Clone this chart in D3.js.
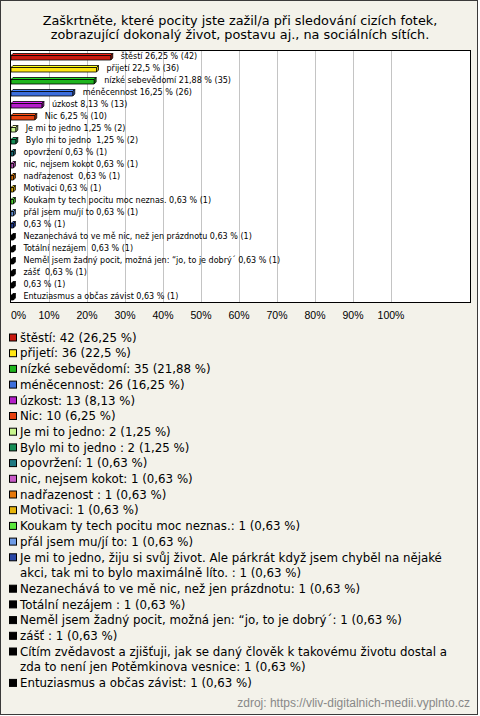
<!DOCTYPE html>
<html><head><meta charset="utf-8">
<script src="https://cdn.jsdelivr.net/npm/d3@7"></script>
<style>
html,body{margin:0;padding:0;background:#fff;}
svg text{font-family:"Liberation Sans",Arial,sans-serif;}
</style>
</head><body>
<svg id="c" width="480" height="716"></svg>
<script>
const title = ["Zaškrtněte, které pocity jste zažil/a při sledování cizích fotek,",
               "zobrazující dokonalý život, postavu aj., na sociálních sítích."];
const categories = ["štěstí","přijetí","nízké sebevědomí","méněcennost","úzkost","Nic",
  "Je mi to jedno","Bylo mi to jedno ","opovržení","nic, nejsem kokot","nadřazenost ","Motivaci",
  "Koukam ty tech pocitu moc neznas.","přál jsem mu/jí to",
  "Je mi to jedno, žiju si svůj život. Ale párkrát když jsem chyběl na nějaké akci, tak mi to bylo maximálně líto. ",
  "Nezanechává to ve mě nic, než jen prázdnotu","Totální nezájem ",
  "Neměl jsem žadný pocit, možná jen: “jo, to je dobrý´","zášť ",
  "Cítím zvědavost a zjišťuji, jak se daný člověk k takovému životu dostal a zda to není jen Potěmkinova vesnice",
  "Entuziasmus a občas závist"];
const barNames = ["štěstí","přijetí","nízké sebevědomí","méněcennost","úzkost","Nic",
  "Je mi to jedno","Bylo mi to jedno ","opovržení","nic, nejsem kokot","nadřazenost ","Motivaci",
  "Koukam ty tech pocitu moc neznas.","přál jsem mu/jí to","",
  "Nezanechává to ve mě nic, než jen prázdnotu","Totální nezájem ",
  "Neměl jsem žadný pocit, možná jen: “jo, to je dobrý´","zášť ","","Entuziasmus a občas závist"];
const counts = [42,36,35,26,13,10,2,2,1,1,1,1,1,1,1,1,1,1,1,1,1];
const percents = ["26,25","22,5","21,88","16,25","8,13","6,25","1,25","1,25","0,63","0,63","0,63","0,63",
  "0,63","0,63","0,63","0,63","0,63","0,63","0,63","0,63","0,63"];
const colors = ["#c8190f","#ffe614","#1eb41e","#3c6edc","#b41ec8","#e6410f","#c8f58c","#148c55",
  "#1e7882","#c85ac8","#e6780a","#e6b40a","#5ae63c","#6e9be6","#2846a5",
  "#000000","#000000","#000000","#000000","#000000","#000000"];
const tickValues = [0,10,20,30,40,50,60,70,80,90,100];
const source = "zdroj: https://vliv-digitalnich-medii.vyplnto.cz";

const svg = d3.select("#c");

// size a font so a sample string reaches the width seen in the reference
function fitSize(sample, family, target){
  const t = svg.append("text").style("font-family",family).attr("font-size","100px")
    .style("white-space","pre").text(sample);
  const w = t.node().getComputedTextLength(); t.remove();
  return 100*target/w;
}
const SANS = "'Liberation Sans',Arial,sans-serif", DJV = "'DejaVu Sans',sans-serif";
const titleSize = fitSize(title[0], DJV, 395);
const labelSize = fitSize("Neměl jsem žadný pocit, možná jen: “jo, to je dobrý´ 0,63 % (1)", DJV, 257);
const legendSize = fitSize("Je mi to jedno, žiju si svůj život. Ale párkrát když jsem chyběl na nějaké", DJV, 422);
const srcSize = fitSize(source, SANS, 233);

svg.append("rect").attr("x",0.5).attr("y",0.5).attr("width",477).attr("height",714)
  .attr("fill","#f3f2ea").attr("stroke","#3a3a3a");

svg.selectAll("text.title").data(title).join("text").attr("class","title")
  .attr("x",240).attr("y",(d,i)=>24.5+i*14.5).attr("text-anchor","middle")
  .style("font-family",DJV).attr("font-size",titleSize+"px").attr("fill","#000").text(d=>d);

const plot = {x0:10.5, y0:50.5, x1:470.5, y1:302.5};
svg.append("rect").attr("x",plot.x0).attr("y",plot.y0).attr("width",plot.x1-plot.x0)
  .attr("height",plot.y1-plot.y0).attr("fill","#fff");

const x = d3.scaleLinear().domain([0,100]).range([11,391]);
const y = d3.scaleBand().domain(d3.range(categories.length)).range([50,302]);

// gridlines
svg.append("g").selectAll("line").data(tickValues.slice(1)).join("line")
  .attr("x1",d=>Math.round(x(d))+0.5).attr("x2",d=>Math.round(x(d))+0.5)
  .attr("y1",plot.y0).attr("y2",plot.y1).attr("stroke","#c4c4c4");

svg.append("rect").attr("x",plot.x0).attr("y",plot.y0).attr("width",plot.x1-plot.x0)
  .attr("height",plot.y1-plot.y0).attr("fill","none").attr("stroke","#000");

// bars (3D)
const d3d = 2;
const bars = svg.append("g");
const vals = percents.map(p=>+p.replace(",","."));
vals.forEach((v,i)=>{
  const c = y(i)+y.bandwidth()/2;
  const x0 = x(0), x1 = x(v);
  const yf = c-0.5, h = 4.5;
  const col = d3.color(colors[i]);
  const g = bars.append("g").attr("stroke","#000").attr("stroke-width",0.8).attr("stroke-linejoin","round");
  g.append("polygon").attr("points",[[x0,yf],[x0+d3d,yf-d3d],[x1+d3d,yf-d3d],[x1,yf]].join(" "))
    .attr("fill",col.brighter(0.6));
  g.append("polygon").attr("points",[[x1,yf],[x1+d3d,yf-d3d],[x1+d3d,yf+h-d3d],[x1,yf+h]].join(" "))
    .attr("fill",col.darker(0.8));
  g.append("rect").attr("x",x0).attr("y",yf).attr("width",x1-x0).attr("height",h).attr("fill",col);
  svg.append("text").attr("x",x1+10).attr("y",c).attr("dy","0.36em")
    .attr("font-size",labelSize+"px").style("font-family",DJV).style("white-space","pre")
    .attr("fill","#000")
    .text((barNames[i] ? barNames[i]+" " : "")+percents[i]+" % ("+counts[i]+")");
});

// axis labels
svg.append("g").selectAll("text").data(tickValues).join("text")
  .attr("x",d=>x(d)).attr("y",319)
  .attr("text-anchor",(d,i)=> i===0 ? "start":"middle")
  .attr("font-size","10.5px").attr("fill","#000").text(d=>d+"%");

// legend
const lg = svg.append("g");
let line = 0;
const pitch = 15.7, ly0 = 337.5, maxW = 440;
categories.forEach((name,i)=>{
  const full = name+": "+counts[i]+" ("+percents[i]+" %)";
  const cy = ly0 + pitch*line;
  lg.append("rect").attr("x",9.5).attr("y",cy-3.5).attr("width",7).attr("height",7)
    .attr("fill",colors[i]).attr("stroke","#000").attr("stroke-width",1);
  const t = lg.append("text").attr("x",20).attr("y",cy).attr("dy","0.36em")
    .attr("font-size",legendSize+"px").style("font-family",DJV)
    .attr("fill","#000").style("white-space","pre");
  const words = full.split(" ");
  let cur = [];
  let ts = t.append("tspan").attr("x",20);
  for (const w of words){
    cur.push(w);
    ts.text(cur.join(" "));
    if (ts.node().getComputedTextLength() > maxW && cur.length>1){
      cur.pop(); ts.text(cur.join(" "));
      cur=[w]; line++;
      ts = t.append("tspan").attr("x",20).attr("dy",pitch).text(w);
    }
  }
  line++;
});

svg.append("text").attr("x",470).attr("y",707).attr("text-anchor","end")
  .style("font-family",SANS).attr("font-size",srcSize+"px").attr("fill","#888").text(source);
</script>
</body></html>
